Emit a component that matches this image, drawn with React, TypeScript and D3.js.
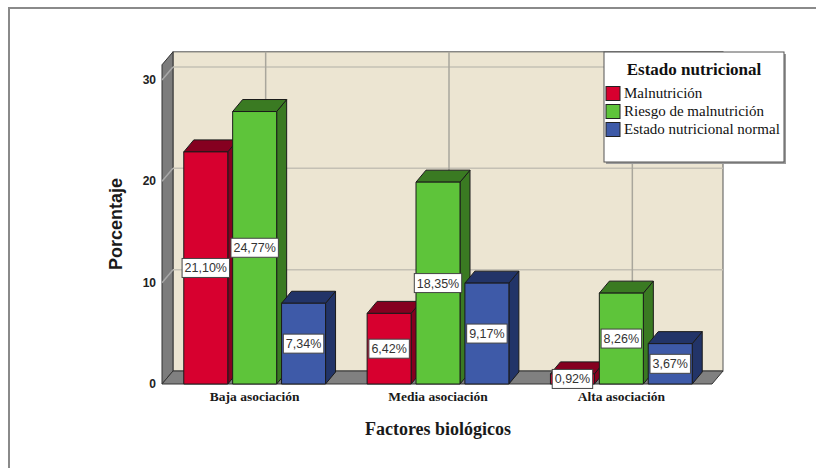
import React, { useEffect, useRef } from "react";
import * as d3 from "d3";

// Data
const categories = ["Baja asociación", "Media asociación", "Alta asociación"];
const series = ["Malnutrición", "Riesgo de malnutrición", "Estado nutricional normal"];
const malnutricion = [21.1, 6.42, 0.92];
const riesgo = [24.77, 18.35, 8.26];
const normal = [7.34, 9.17, 3.67];
const yTicks = [0, 10, 20, 30];

const frontColors = ["#d7002f", "#5ec43a", "#3e5aa8"];
const darkColors = ["#850020", "#3a7a22", "#223468"];

export default function App() {
  const ref = useRef<SVGSVGElement>(null);

  useEffect(() => {
    const svg = d3.select(ref.current);
    svg.selectAll("*").remove();

    const width = 816;
    const height = 468;
    // 3D depth of the walls and bars
    const dx = 11;
    const dy = 13;
    const bdx = 10;
    const bdy = 12;

    const left = 162;
    const right = 712;
    const bottom = 384;

    // axis scale on the back wall
    const yBack = d3.scaleLinear().domain([0, 30]).range([bottom - dy, 67]);
    const wallTop = yBack(31.5);
    // bars are drawn a bit taller than the wall grid, as in the original
    const yBar = d3.scaleLinear().domain([0, 30]).range([bottom, bottom - 330]);

    const x = d3
      .scaleBand()
      .domain(categories)
      .range([left + 1, right + 1])
      .paddingInner(0.2)
      .paddingOuter(0.1);
    const x1 = d3
      .scaleBand()
      .domain(series)
      .range([0, x.bandwidth()])
      .paddingInner(0.1)
      .paddingOuter(0.05);

    const values = [malnutricion, riesgo, normal];

    // outer frame
    svg
      .append("rect")
      .attr("x", 9)
      .attr("y", 8)
      .attr("width", width + 20)
      .attr("height", height + 20)
      .attr("fill", "#fff")
      .attr("stroke", "#8a8a8a")
      .attr("stroke-width", 2);

    // back wall
    svg
      .append("rect")
      .attr("x", left + dx)
      .attr("y", wallTop)
      .attr("width", right - left)
      .attr("height", bottom - dy - wallTop)
      .attr("fill", "#ece5d2")
      .attr("stroke", "#555")
      .attr("stroke-width", 1);

    // left wall
    svg
      .append("polygon")
      .attr(
        "points",
        [
          [left, wallTop + dy],
          [left + dx, wallTop],
          [left + dx, bottom - dy],
          [left, bottom],
        ].join(" ")
      )
      .attr("fill", "#7c7c7c")
      .attr("stroke", "#333")
      .attr("stroke-width", 1);

    // floor
    svg
      .append("polygon")
      .attr(
        "points",
        [
          [left, bottom],
          [left + dx, bottom - dy],
          [right + dx, bottom - dy],
          [right, bottom],
        ].join(" ")
      )
      .attr("fill", "#808080")
      .attr("stroke", "#333")
      .attr("stroke-width", 1);

    // horizontal gridlines
    const grid = svg.append("g");
    yTicks
      .filter((t) => t > 0)
      .forEach((t) => {
        grid
          .append("line")
          .attr("x1", left + dx)
          .attr("x2", right + dx)
          .attr("y1", yBack(t))
          .attr("y2", yBack(t))
          .attr("stroke", "#c4c0b4")
          .attr("stroke-width", 1.5);
        grid
          .append("line")
          .attr("x1", left)
          .attr("x2", left + dx)
          .attr("y1", yBack(t) + dy)
          .attr("y2", yBack(t))
          .attr("stroke", "#a8a8a8")
          .attr("stroke-width", 1.5);
      });

    // vertical gridlines
    categories.forEach((c) => {
      const cx = (x(c) as number) + x.bandwidth() / 2 + dx;
      grid
        .append("line")
        .attr("x1", cx)
        .attr("x2", cx)
        .attr("y1", wallTop)
        .attr("y2", bottom - dy)
        .attr("stroke", "#a9a69c")
        .attr("stroke-width", 1.5);
    });

    // y tick labels
    svg
      .append("g")
      .selectAll("text")
      .data(yTicks)
      .enter()
      .append("text")
      .attr("x", 156)
      .attr("y", (d) => yBack(d) + dy + 4)
      .attr("text-anchor", "end")
      .attr("font-family", "Liberation Sans, Arial, sans-serif")
      .attr("font-weight", "bold")
      .attr("font-size", 12)
      .attr("fill", "#222")
      .text((d) => d);

    // bars
    const bars = svg.append("g");
    const labels: { x: number; y: number; text: string }[] = [];
    categories.forEach((c, ci) => {
      series.forEach((s, si) => {
        const v = values[si][ci];
        const x0 = (x(c) as number) + (x1(s) as number);
        const w = x1.bandwidth();
        const yt = yBar(v);
        const yb = yBar(0);
        const g = bars.append("g").attr("stroke", "#1a1a1a").attr("stroke-width", 1).attr("stroke-linejoin", "round");
        // side face
        g.append("polygon")
          .attr(
            "points",
            [
              [x0 + w, yt],
              [x0 + w + bdx, yt - bdy],
              [x0 + w + bdx, yb - bdy],
              [x0 + w, yb],
            ].join(" ")
          )
          .attr("fill", darkColors[si]);
        // top face
        g.append("polygon")
          .attr(
            "points",
            [
              [x0, yt],
              [x0 + bdx, yt - bdy],
              [x0 + w + bdx, yt - bdy],
              [x0 + w, yt],
            ].join(" ")
          )
          .attr("fill", darkColors[si]);
        // front face
        g.append("rect")
          .attr("x", x0)
          .attr("y", yt)
          .attr("width", w)
          .attr("height", yb - yt)
          .attr("fill", frontColors[si]);
        labels.push({
          x: x0 + w / 2,
          y: (yt + yb) / 2,
          text: v.toFixed(2).replace(".", ",") + "%",
        });
      });
    });

    // value labels
    const lg = svg.append("g");
    labels.forEach((l) => {
      const gg = lg.append("g");
      const rect = gg.append("rect");
      const t = gg
        .append("text")
        .attr("x", l.x)
        .attr("y", l.y + 4.5)
        .attr("text-anchor", "middle")
        .attr("font-family", "Liberation Sans, Arial, sans-serif")
        .attr("font-size", 12.5)
        .attr("fill", "#333")
        .text(l.text);
      const tw = (t.node() as SVGTextElement).getComputedTextLength();
      rect
        .attr("x", l.x - tw / 2 - 2.5)
        .attr("y", l.y - 9.5)
        .attr("width", tw + 5)
        .attr("height", 19)
        .attr("fill", "#fff")
        .attr("stroke", "#444")
        .attr("stroke-width", 1);
    });

    // category labels
    svg
      .append("g")
      .selectAll("text")
      .data(categories)
      .enter()
      .append("text")
      .attr("x", (d) => (x(d) as number) + x.bandwidth() / 2)
      .attr("y", 401)
      .attr("text-anchor", "middle")
      .attr("font-family", "Liberation Serif, serif")
      .attr("font-weight", "bold")
      .attr("font-size", 13.5)
      .attr("fill", "#1a1a1a")
      .text((d) => d);

    // axis titles
    svg
      .append("text")
      .attr("x", 438)
      .attr("y", 435)
      .attr("text-anchor", "middle")
      .attr("font-family", "Liberation Serif, serif")
      .attr("font-weight", "bold")
      .attr("font-size", 18)
      .attr("fill", "#1a1a1a")
      .text("Factores biológicos");

    svg
      .append("text")
      .attr("transform", "translate(122,224) rotate(-90)")
      .attr("text-anchor", "middle")
      .attr("font-family", "Liberation Sans, Arial, sans-serif")
      .attr("font-weight", "bold")
      .attr("font-size", 18)
      .attr("fill", "#1a1a1a")
      .text("Porcentaje");

    // legend
    const legend = svg.append("g").attr("transform", "translate(604,52)");
    legend
      .append("rect")
      .attr("x", 2)
      .attr("y", 2)
      .attr("width", 180)
      .attr("height", 110)
      .attr("fill", "#9a9a9a");
    legend
      .append("rect")
      .attr("width", 180)
      .attr("height", 110)
      .attr("fill", "#fff")
      .attr("stroke", "#555")
      .attr("stroke-width", 1);
    legend
      .append("text")
      .attr("x", 90)
      .attr("y", 23)
      .attr("text-anchor", "middle")
      .attr("font-family", "Liberation Serif, serif")
      .attr("font-weight", "bold")
      .attr("font-size", 17)
      .attr("fill", "#111")
      .text("Estado nutricional");
    const items = legend
      .selectAll("g.item")
      .data(series)
      .enter()
      .append("g")
      .attr("class", "item")
      .attr("transform", (_d, i) => `translate(2,${34.5 + i * 18})`);
    items
      .append("rect")
      .attr("width", 14)
      .attr("height", 14)
      .attr("fill", (_d, i) => frontColors[i])
      .attr("stroke", "#222")
      .attr("stroke-width", 1);
    items
      .append("text")
      .attr("x", 18)
      .attr("y", 11.5)
      .attr("font-family", "Liberation Serif, serif")
      .attr("font-size", 15)
      .attr("fill", "#111")
      .text((d) => d);
  }, []);

  return (
    <svg
      ref={ref}
      width={816}
      height={468}
      style={{ position: "absolute", left: 0, top: 0, background: "#fff" }}
    />
  );
}
